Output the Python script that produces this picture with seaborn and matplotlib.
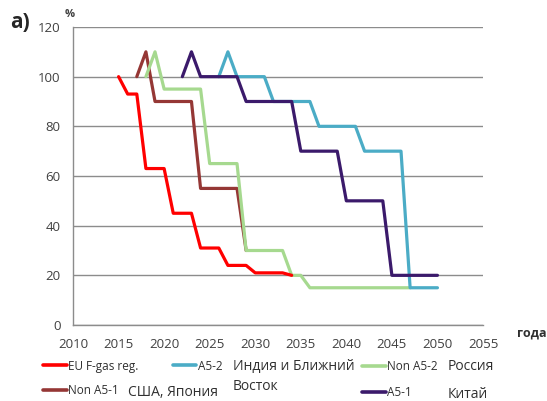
import numpy as np
import pandas as pd
import seaborn as sns
import matplotlib.pyplot as plt
from matplotlib.lines import Line2D

# phase-down schedules, % of baseline
eu_years = [2015, 2016, 2017, 2018, 2020, 2021, 2023, 2024, 2026, 2027, 2029, 2030, 2033, 2034]
eu_vals = [100, 93, 93, 63, 63, 45, 45, 31, 31, 24, 24, 21, 21, 20]

nona51_years = [2017, 2018, 2019, 2023, 2024, 2028, 2029]
nona51_vals = [100, 110, 90, 90, 55, 55, 30]

nona52_years = [2018, 2019, 2020, 2024, 2025, 2028, 2029, 2033, 2034, 2035, 2036, 2047]
nona52_vals = [100, 110, 95, 95, 65, 65, 30, 30, 20, 20, 15, 15]

a52_years = [2026, 2027, 2028, 2031, 2032, 2036, 2037, 2041, 2042, 2046, 2047, 2050]
a52_vals = [100, 110, 100, 100, 90, 90, 80, 80, 70, 70, 15, 15]

a51_years = [2022, 2023, 2024, 2028, 2029, 2034, 2035, 2039, 2040, 2044, 2045, 2050]
a51_vals = [100, 110, 100, 100, 90, 90, 70, 70, 50, 50, 20, 20]

series_names = ['Non A5-1', 'Non A5-2', 'EU F-gas reg.', 'A5-2', 'A5-1']
series_data = [(nona51_years, nona51_vals), (nona52_years, nona52_vals), (eu_years, eu_vals),
               (a52_years, a52_vals), (a51_years, a51_vals)]
colors = {'EU F-gas reg.': '#ff0000', 'Non A5-1': '#953735', 'Non A5-2': '#a6d98f',
          'A5-2': '#4bacc6', 'A5-1': '#3b1a6b'}
regions = {'Non A5-1': ['США, Япония'], 'A5-2': ['Индия и Ближний', 'Восток'],
           'Non A5-2': ['Россия'], 'A5-1': ['Китай']}

rows = []
for name, (xs, ys) in zip(series_names, series_data):
    for x, y in zip(xs, ys):
        rows.append({'year': x, 'value': y, 'series': name})
df = pd.DataFrame(rows)

sns.set_style('white')
plt.rcParams['font.family'] = ['Open Sans', 'DejaVu Sans']

fig = plt.figure(figsize=(5.47, 4.01), dpi=100)
ax = fig.add_axes([0.1335, 0.1895, 0.7495, 0.7432])

sns.lineplot(data=df, x='year', y='value', hue='series', hue_order=series_names,
             palette=colors, sort=False, estimator=None, legend=False, lw=2.3, ax=ax)

ax.set_xlim(2010, 2055)
ax.set_ylim(0, 120)
ax.set_xticks(range(2010, 2056, 5))
ax.set_yticks(range(0, 121, 20))
ax.yaxis.grid(True, color='#8c8c8c', lw=1)
ax.xaxis.grid(False)
for s in ['top', 'right']:
    ax.spines[s].set_visible(False)
for s in ['left', 'bottom']:
    ax.spines[s].set_color('#8c8c8c')
    ax.spines[s].set_linewidth(1)
ax.tick_params(length=0, labelsize=9.5, labelcolor='#404040', pad=9)
ax.set_xlabel('')
ax.set_ylabel('')

fig.text(0.018, 0.945, 'а)', fontsize=15, fontweight='bold', va='center')
fig.text(0.119, 0.965, '%', fontsize=8, fontweight='bold', va='center', color='#404040')
fig.text(0.945, 0.170, 'года', fontsize=9, fontweight='bold', va='center', color='#303030')

# legend pieces, placed like the original
legend_pos = {'EU F-gas reg.': (0.079, 0.087), 'Non A5-1': (0.079, 0.025),
              'A5-2': (0.316, 0.087), 'Non A5-2': (0.662, 0.086), 'A5-1': (0.662, 0.02)}
region_pos = {'Non A5-1': (0.234, 0.022), 'A5-2': (0.426, 0.087),
              'Non A5-2': (0.819, 0.085), 'A5-1': (0.819, 0.017)}
for name, (lx, ly) in legend_pos.items():
    h = Line2D([], [], color=colors[name], lw=2.6)
    fig.legend(handles=[h], labels=[name], loc='center left', bbox_to_anchor=(lx, ly),
               frameon=False, fontsize=8.5, handlelength=2.0, handletextpad=0.1,
               borderpad=0, borderaxespad=0, labelcolor='#303030')
for name, (tx, ty) in region_pos.items():
    for i, line in enumerate(regions[name]):
        fig.text(tx, ty - i * 0.05, line, fontsize=10, va='center', color='#303030')

fig.savefig('out.png', dpi=100)
